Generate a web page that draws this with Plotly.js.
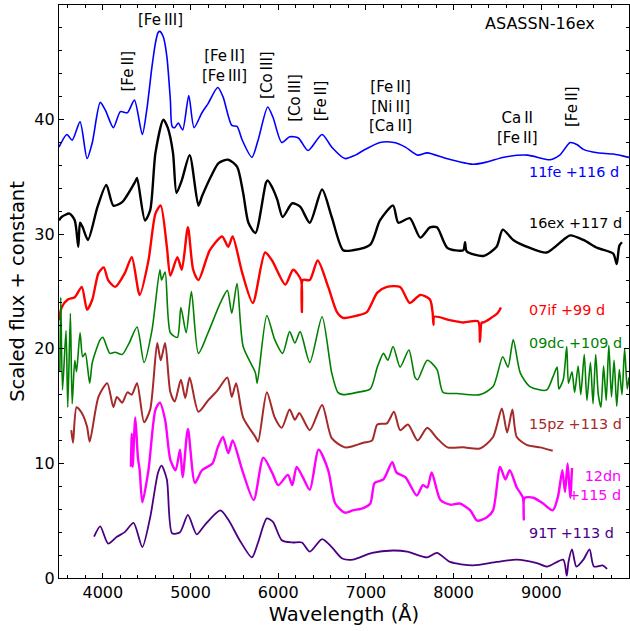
<!DOCTYPE html>
<html>
<head>
<meta charset="utf-8">
<script src="https://cdn.plot.ly/plotly-3.0.1.min.js"></script>
<style>html,body{margin:0;padding:0;background:#fff;}#chart{width:630px;height:631px;}</style>
</head>
<body>
<div id="chart"></div>
<script>
// ---- Data (wavelength in Angstrom, scaled flux + constant) ----
const wl_11fe = [3500,3590,3650,3740,3820,3880,3970,4030,4120,4200,4280,4360,4450,4500,4560,4600,4630,4650,4690,4730,4770,4790,4820,4860,4910,4980,5040,5130,5200,5310,5370,5470,5530,5590,5700,5770,5880,5940,6040,6130,6230,6340,6500,6610,6760,6880,6970,7160,7320,7450,7590,7700,7920,8220,8380,8560,8840,9100,9210,9330,9410,9480,9640,9820,10000];
const fl_11fe = [37.6,38.7,38.2,39.8,36.6,38.0,41.5,40.8,39.3,40.7,40.6,41.7,38.7,40.8,44.6,46.7,47.6,47.7,47.2,45.5,41.7,39.4,39.3,39.7,39.1,42.1,39.3,40.6,41.4,42.8,42.0,39.5,39.4,38.2,36.7,38.2,41.1,40.2,38.0,38.5,38.4,37.3,38.7,37.6,36.6,36.9,37.3,38.0,38.0,37.6,36.9,37.1,36.6,36.1,36.3,36.7,36.9,36.5,36.9,38.0,37.8,37.4,37.1,37.0,36.7];

const wl_16ex = [3500,3530,3620,3680,3720,3740,3770,3830,3940,4040,4120,4220,4370,4390,4480,4540,4600,4690,4740,4800,4840,4900,4990,5090,5130,5250,5320,5430,5530,5600,5660,5740,5860,5880,5930,5990,6050,6160,6250,6360,6500,6610,6740,6850,7050,7160,7310,7370,7500,7620,7730,7810,7930,8110,8130,8150,8340,8490,8560,8680,8870,9060,9250,9330,9480,9640,9820,9860,9890,9920];
const fl_16ex = [31.2,31.5,31.8,31.2,28.9,31.0,30.6,29.5,32.4,34.3,32.5,32.8,34.6,34.9,31.2,32.1,37.1,40.0,39.3,37.1,33.6,34.7,36.9,32.5,33.3,35.3,36.2,36.5,35.9,33.6,31.0,30.1,34.5,34.7,34.1,33.0,31.5,32.7,32.4,31.0,33.9,31.5,28.6,28.6,29.1,31.2,32.5,31.0,31.4,29.7,30.6,30.6,28.8,28.6,29.3,28.5,28.1,28.9,30.4,29.5,28.8,28.4,29.5,29.9,29.5,28.8,28.3,27.4,29.0,29.3];

const wl_07if = [3500,3530,3600,3680,3760,3820,3880,3950,4010,4060,4140,4250,4330,4420,4520,4600,4660,4730,4770,4850,4900,4970,5030,5090,5220,5360,5430,5480,5590,5710,5850,5930,6080,6170,6260,6270,6280,6360,6450,6570,6670,6740,6900,7010,7130,7240,7390,7500,7620,7730,7760,7770,7780,7960,8110,8280,8300,8320,8340,8500,8540];
const fl_07if = [22.5,23.6,24.3,24.5,25.4,23.4,24.3,26.6,27.1,26.0,25.4,26.6,28.0,24.7,27.7,31.8,32.5,28.9,26.4,28.0,26.9,30.6,26.9,26.0,28.6,29.8,28.9,29.8,26.6,24.0,28.4,27.7,25.6,26.9,26.0,23.2,26.0,26.0,27.7,25.4,23.2,22.7,22.9,23.2,24.9,25.4,25.4,24.0,24.7,24.3,23.2,22.1,22.8,22.5,22.3,22.4,20.6,22.3,22.3,23.1,23.6];

const wl_09dc = [3510,3520,3540,3580,3600,3630,3650,3680,3700,3740,3770,3800,3850,3880,3970,4000,4080,4140,4220,4300,4390,4470,4560,4650,4670,4710,4770,4850,4890,4950,5010,5090,5200,5340,5420,5470,5530,5600,5740,5760,5870,5960,6050,6130,6190,6250,6360,6500,6610,6680,6740,6900,7050,7130,7200,7250,7310,7390,7490,7560,7590,7700,7810,7880,8040,8300,8450,8560,8620,8680,8760,8870,9060,9130,9180,9200,9250,9290,9310,9350,9380,9420,9450,9490,9520,9560,9590,9620,9650,9680,9710,9740,9770,9800,9830,9860,9890,9920,9950,9980,10000];
const fl_09dc = [18.0,24.5,16.4,21.6,14.9,23.1,15.2,19.0,18.0,21.4,19.3,19.6,17.0,18.8,20.8,21.0,19.6,19.7,19.5,20.5,21.9,18.8,21.6,26.9,26.0,26.7,21.4,21.0,23.6,21.4,25.0,19.6,21.4,24.0,25.1,23.1,25.7,20.2,17.9,17.0,22.9,20.8,19.6,21.5,20.5,21.5,18.8,22.8,17.9,16.2,16.0,16.2,16.5,18.4,19.6,19.0,20.2,18.4,19.9,17.5,17.3,19.0,18.2,16.2,16.1,16.0,16.7,19.3,18.4,20.8,17.9,16.7,16.4,17.5,18.4,16.5,17.3,20.2,17.0,18.0,16.2,18.5,16.0,19.5,15.5,18.8,15.2,19.5,16.0,14.9,18.5,15.5,20.3,15.8,19.0,15.0,18.2,16.0,20.0,16.5,17.5];

const wl_15pz = [3640,3660,3700,3760,3820,3850,3950,4050,4120,4160,4220,4280,4330,4390,4470,4540,4620,4660,4710,4770,4820,4890,4940,4990,5090,5200,5310,5420,5470,5520,5600,5740,5770,5870,5960,6040,6130,6190,6240,6360,6500,6610,6760,6850,6970,7070,7130,7240,7320,7390,7480,7590,7700,7810,7930,8110,8300,8450,8550,8610,8670,8720,8840,8990,9130];
const fl_15pz = [12.9,11.8,14.9,14.4,13.2,11.9,15.8,17.0,14.9,15.8,15.3,16.2,16.0,17.0,13.6,14.7,20.5,19.0,20.5,16.2,15.4,17.3,15.7,17.5,14.5,15.5,16.4,17.5,15.8,17.0,14.0,12.3,11.9,16.2,14.0,13.1,14.7,13.8,14.4,12.9,15.1,12.2,11.4,11.5,11.8,12.0,13.4,13.5,14.5,12.9,13.4,12.0,13.1,12.2,11.4,11.4,11.3,12.3,14.8,12.7,14.7,12.3,11.6,11.4,11.1];

const wl_12dn = [4320,4330,4340,4370,4400,4420,4450,4520,4600,4650,4710,4770,4830,4880,4910,4970,5050,5130,5250,5310,5370,5430,5480,5590,5720,5830,5930,6000,6110,6160,6210,6280,6360,6460,6570,6650,6760,6850,6970,7050,7100,7200,7300,7350,7450,7580,7650,7700,7750,7850,7960,8070,8190,8270,8380,8450,8530,8590,8640,8720,8790,8800,8810,8910,9020,9130,9190,9240,9270,9300,9330,9350];
const fl_12dn = [9.7,12.6,9.7,14.0,10.5,9.4,6.6,9.4,14.7,15.3,13.8,10.3,9.4,11.2,8.8,13.0,8.3,9.4,10.0,11.4,12.3,10.9,12.0,9.4,6.8,10.5,9.2,8.1,9.0,8.1,9.7,8.8,7.7,11.2,9.4,6.5,5.7,5.9,6.1,6.5,8.3,8.6,10.1,9.2,8.8,7.2,8.1,7.9,9.2,6.8,6.4,6.5,5.9,5.0,5.3,5.9,9.7,8.6,9.4,7.9,7.0,5.1,7.0,7.0,6.5,5.9,7.1,9.4,7.5,10.0,7.0,9.6];

const wl_91T = [3900,3970,4060,4160,4250,4350,4450,4540,4630,4670,4730,4790,4880,4970,5070,5160,5340,5430,5560,5700,5770,5870,5940,6040,6160,6270,6360,6500,6610,6730,6850,7070,7310,7470,7700,7810,7960,8220,8490,8720,8950,9070,9250,9290,9310,9350,9400,9480,9550,9600,9700,9750];
const fl_91T = [3.6,4.5,3.0,3.6,4.0,4.8,2.7,5.3,9.2,9.8,8.6,3.9,4.0,5.5,3.8,4.6,5.9,5.1,3.3,1.8,3.1,5.2,4.9,3.3,3.1,3.1,2.3,3.4,2.7,1.7,1.6,2.2,2.4,2.3,1.8,2.2,1.4,1.1,1.4,1.6,1.3,1.0,1.6,0.2,1.4,2.5,1.0,1.6,2.5,1.0,1.1,0.8];

const seriesNames = ["11fe +116 d","16ex +117 d","07if +99 d","09dc +109 d","15pz +113 d","12dn<br>+115 d","91T +113 d"];
const labelY = [35.4, 31.0, 23.4, 20.5, 13.4, 8.1, 3.9];
const ionLabels = ["[Fe\u2009III]","[Fe\u2009II]","[Fe\u2009II]<br>[Fe\u2009III]","[Co\u2009III]","[Co\u2009III]","[Fe\u2009II]","[Fe\u2009II]<br>[Ni\u2009II]<br>[Ca\u2009II]","Ca\u2009II<br>[Fe\u2009II]","[Fe\u2009II]"];
const ionX = [4652, 4287, 5382, 5872, 6191, 6488, 7275, 8723, 9350];
const ionY = [48.7, 44.2, 44.7, 43.9, 41.9, 41.6, 41.1, 39.3, 41.1];
const ionRot = [0, -90, 0, -90, -90, -90, 0, 0, -90];

// ---- Styling ----
const colors = ["#0000ff","#000000","#ff0000","#008000","#a52a2a","#ff00ff","#4b0082"];
const widths = [1.6, 2.4, 2.4, 1.6, 2.0, 2.4, 1.8];
const wls = [wl_11fe, wl_16ex, wl_07if, wl_09dc, wl_15pz, wl_12dn, wl_91T];
const fls = [fl_11fe, fl_16ex, fl_07if, fl_09dc, fl_15pz, fl_12dn, fl_91T];

const traces = wls.map((w, i) => ({
  x: w, y: fls[i], type: 'scatter', mode: 'lines',
  line: {color: colors[i], width: widths[i], shape: 'spline', smoothing: 0.7}, hoverinfo: 'skip'
}));

const font = "DejaVu Sans, sans-serif";
const annotations = [];
ionLabels.forEach((t, i) => {
  annotations.push({x: ionX[i], y: ionY[i], xref: 'x', yref: 'y', text: t, showarrow: false,
    textangle: ionRot[i], font: {family: font, size: 15, color: '#000'}, align: 'center'});
});
annotations.push({x: 8985, y: 48.4, xref: 'x', yref: 'y', text: 'ASASSN-16ex', showarrow: false,
  font: {family: font, size: 16, color: '#000'}});
seriesNames.forEach((t, i) => {
  if (i === 5) {
    annotations.push({x: 9930, y: labelY[i], xref: 'x', yref: 'y', text: t, showarrow: false,
      xanchor: 'right', align: 'right', font: {family: font, size: 14.4, color: colors[i]}});
  } else {
    annotations.push({x: 8837, y: labelY[i], xref: 'x', yref: 'y', text: t, showarrow: false,
      xanchor: 'left', font: {family: font, size: 14.4, color: colors[i]}});
  }
});

const axisCommon = {
  showline: true, linecolor: '#000', linewidth: 1.2, mirror: 'ticks',
  ticks: 'inside', ticklen: 5, tickwidth: 1, tickcolor: '#000',
  showgrid: false, zeroline: false,
  tickfont: {family: font, size: 16, color: '#000'}
};

const layout = {
  width: 630, height: 631,
  margin: {l: 59, r: 1, t: 5, b: 53},
  paper_bgcolor: '#fff', plot_bgcolor: '#fff',
  showlegend: false, hovermode: false,
  xaxis: Object.assign({}, axisCommon, {
    range: [3500, 10000], tickmode: 'array', tickvals: [4000,5000,6000,7000,8000,9000],
    minor: {dtick: 200, tick0: 3600, ticks: 'inside', ticklen: 3, tickcolor: '#000', showgrid: false},
    title: {text: 'Wavelength (Å)', font: {family: font, size: 19.5, color: '#000'}, standoff: 6}
  }),
  yaxis: Object.assign({}, axisCommon, {
    range: [0, 50], tickmode: 'array', tickvals: [0,10,20,30,40],
    minor: {dtick: 2, tick0: 0, ticks: 'inside', ticklen: 3, tickcolor: '#000', showgrid: false},
    title: {text: 'Scaled flux + constant', font: {family: font, size: 19.5, color: '#000'}, standoff: 4}
  }),
  annotations: annotations
};

Plotly.newPlot('chart', traces, layout, {displayModeBar: false, staticPlot: true});
</script>
</body>
</html>
